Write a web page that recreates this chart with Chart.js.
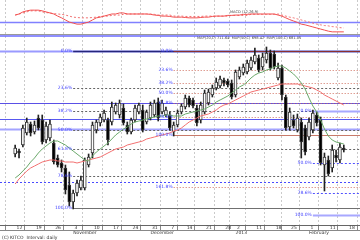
<!DOCTYPE html>
<html><head><meta charset="utf-8">
<script src="https://cdn.jsdelivr.net/npm/chart.js@4/dist/chart.umd.min.js"></script>
<style>html,body{margin:0;padding:0;background:#fff;overflow:hidden}</style>
</head><body>
<canvas id="c" width="360" height="240"></canvas>
<script>
// ---- data ----
const openP  = [646,649,655,667,676,668,682,680,660,662, 657,642,637,632,615,598,607,612,612,635, 647,670,677,680,680,678,688,685,692,675, 668,680,688,690,678,682,685,698,688,685, 685,668,675,688,693,702,700,692,680,688, 697,705,712,714,720,719,717,705,723,727, 728,732,738,742,733,740,747,746,722,732, 703,673,680,670,678,672,663,670,685,680, 635,640,632,645,640,652,null];
const closeP = [652,647,672,678,667,675,672,658,674,676, 638,635,632,610,598,607,617,620,640,643, 675,678,683,687,660,693,695,697,677,668, 680,692,695,670,688,695,697,682,697,690, 672,675,687,694,702,695,694,677,695,707, 708,712,718,721,717,715,703,728,730,733, 737,740,745,730,743,747,732,733,732,705, 672,688,674,682,658,648,678,687,677,637, 643,626,650,642,653,650,null];
const highP  = [655,651,675,682,678,679,685,685,678,680, 660,645,640,635,628,610,620,624,642,646, 678,680,686,690,682,698,697,700,696,678, 682,695,697,695,690,698,700,702,700,693, 688,678,690,696,705,704,702,695,698,710, 711,715,722,724,722,721,720,730,733,736, 740,743,752,745,747,753,750,749,737,735, 705,692,685,686,682,675,682,690,688,683, 647,644,655,650,657,655,null];
const lowP   = [643,642,653,665,664,666,670,656,657,659, 636,633,628,606,594,591,604,610,610,633, 642,667,674,678,655,675,686,682,675,666, 666,678,686,668,676,680,683,679,686,683, 670,664,673,686,691,693,692,674,677,686, 695,703,710,712,714,713,701,703,721,725, 726,730,736,728,730,737,730,731,720,700, 670,670,672,668,642,645,660,667,674,635, 609,624,628,638,637,648,null];
const maShort = [622,625,629,633,638,642,647,651,654,657, 659,659,657,655,652,649,646,643,640,639, 644,648,651,654,657,661,665,668,671,673, 676,678,679,680,681,682,683,684,684,685, 685,684,684,684,686,687,688,689,690,691, 693,695,698,700,702,704,707,710,713,715, 718,722,725,727,728,730,731,733,734,734, 732,729,726,722,717,711,702,694,688,680, 671,664,660,658,657,656,null];
const maLong  = [616,621,625,629,632,634,636,638,639,640, 640,639,639,638,638,638,637,638,639,640, 641,642,643,645,647,649,651,652,653,655, 656,657,658,659,661,662,663,664,665,666, 667,669,670,672,675,678,680,682,684,685, 686,688,690,693,695,696,698,700,702,704, 706,708,709,710,711,712,713,714,715,716, 716,716,716,716,715,714,713,712,710,708, 705,703,701,699,697,695,null];
const oscMain   = [57,60,66,69,71,71,71,69,66,63, 60,54,49,43,37,34,31,31,34,37, 43,49,51,54,57,60,60,63,63,60, 60,60,60,60,60,59,57,56,54,54, 53,51,51,51,50,49,49,49,50,51, 51,53,54,54,54,56,56,57,57,59, 59,60,60,60,60,60,60,60,57,54, 49,44,40,36,31,29,26,23,20,17, 14,11,9,9,9,9,null];
const oscSignal = [57,60,63,66,69,69,69,66,64,63, 61,60,59,57,54,51,50,49,49,49, 50,51,53,54,54,56,57,57,59,60, 60,60,60,60,60,60,59,57,57,57, 57,54,54,54,53,53,53,53,53,54, 54,54,54,54,54,54,56,56,56,56, 56,59,59,59,59,59,59,59,60,57, 54,51,49,46,43,40,37,34,31,29, 27,26,24,23,21,20,null];
const oscLevel = 37;

const tickIdx   = [0,5,10,15,20,25,30,35,40,44,49,54,57,62,67,71,76,81,86];
const tickDays  = ['12','19','26','3','10','17','24','31','7','14','21','28','2','11','18','25','1','11','18'];
const tickMonth = ['','','','November','','','','December','','','','','2013','','','','February','',''];

const hLevels = [749,697,681,671,618];           // full-width support / resistance lines
const fib1Start = 15, fib1Levels = [749,712,689,670,651,624,592];
const fib1Names = ['0.0%','23.6%','38.2%','50.0%','61.8%','78.6%','100.0%'];
const fib2Start = 41, fib2Levels = [749,730,717,707,697,683,665,613];
const fib2Names = ['0.0%','23.6%','38.2%','50.0%','61.8%','78.6%','100.0%','161.8%'];
const fib3Start = 77, fib3Levels = [689,637,607,585];
const fib3Names = ['0.0%','50.0%','78.6%','100.0%'];

// ---- styles ----
const hStyles = [{c:'#9a9aff',w:2},{c:'#5a50e6',w:1},{c:'#5858f0',w:1},{c:'#a4a4ff',w:2},{c:'#4a4aff',w:1,d:[2,2]}];
const fib1Styles = fib1Levels.map((v,k)=> k===0?{c:'#26267a',w:1.5}:(k===fib1Levels.length-1?{c:'#707070',w:1}:{c:'#666',w:1,d:[2,2]}));
const fib2Styles = fib2Levels.map((v,k)=> k===0?{c:'#8a3030',w:1}:(k===6?{c:'#c87a6a',w:1}:{c:'#d07060',w:1,d:[1,2]}));
const fib3Styles = fib3Levels.map((v,k)=> (k===0||k===3)?{c:'#a8a8ff',w:2}:{c:'#5050ff',w:1,d:[2,2]});
const fibSets = [
  {start:fib1Start, levels:fib1Levels, names:fib1Names, styles:fib1Styles},
  {start:fib2Start, levels:fib2Levels, names:fib2Names, styles:fib2Styles},
  {start:fib3Start, levels:fib3Levels, names:fib3Names, styles:fib3Styles}
];
const idx = openP.map((v,i)=>i);

const overlay = {
  id:'overlay',
  beforeDatasetsDraw(chart){
    const {ctx, chartArea:a, scales:{x, y, yOsc}} = chart;
    const Y = v => Math.round(y.getPixelForValue(v))+0.5;
    const line = (x1,x2,py,s)=>{ctx.save();ctx.strokeStyle=s.c;ctx.lineWidth=s.w;ctx.setLineDash(s.d||[]);ctx.beginPath();ctx.moveTo(x1,py);ctx.lineTo(x2,py);ctx.stroke();ctx.restore();};
    const p0 = Math.round(yOsc.getPixelForValue(0));
    line(a.left,a.right,Math.round(yOsc.getPixelForValue(oscLevel))+0.5,{c:'#8080ff',w:1.5});
    line(a.left,a.right,p0-0.5,{c:'#999',w:1});
    line(a.left,a.right,p0+1,{c:'#6a6aff',w:1.5});
    hLevels.forEach((v,k)=>line(a.left,a.right,Y(v),hStyles[k]));
    fibSets.forEach(f=>{const xs=x.getPixelForValue(f.start);f.levels.forEach((v,k)=>line(xs,a.right,Y(v),f.styles[k]));});
    line(a.left,a.right,a.bottom+5.5,{c:'#888',w:1});
  },
  afterDatasetsDraw(chart){
    const {ctx, chartArea:a, scales:{x, y}} = chart;
    ctx.save();
    ctx.font = '4.5px "DejaVu Sans"';
    ctx.fillStyle = '#4040ff';
    ctx.textBaseline = 'middle';
    ctx.textAlign = 'right';
    fibSets.forEach(f=>{const xs=x.getPixelForValue(f.start)-1;f.levels.forEach((v,k)=>ctx.fillText(f.names[k],xs,y.getPixelForValue(v)));});
    ctx.textAlign='left';
    ctx.fillStyle='#444';
    ctx.font = '3.6px "DejaVu Sans"';
    ctx.fillText('MACD (12,26,9)',230,12);
    ctx.fillText('MAP(20,C) 711.64  MAP(50,C) 698.42  MAP(100,C) 681.05',197,38.5);
    ctx.font = '4.5px "DejaVu Sans"';
    ctx.fillStyle='#333';
    ctx.fillText('(C) KITCO  Interval: daily',2,238);
    ctx.restore();
  }
};

new Chart(document.getElementById('c'), {
  data:{datasets:[
    {type:'line', data:idx.map(i=>({x:i,y:maShort[i]})), borderColor:'#6aa86a', borderWidth:1, pointRadius:0, yAxisID:'y', order:0},
    {type:'line', data:idx.map(i=>({x:i,y:maLong[i]})), borderColor:'#f27070', borderWidth:1, pointRadius:0, yAxisID:'y', order:0},
    {type:'line', data:idx.map(i=>({x:i,y:oscMain[i]})), borderColor:'#f25050', borderWidth:1, pointRadius:0, yAxisID:'yOsc', order:0},
    {type:'line', data:idx.map(i=>({x:i,y:oscSignal[i]})), borderColor:'#f07070', borderWidth:1, borderDash:[2,2], pointRadius:0, yAxisID:'yOsc', order:0},
    {type:'bar', data:idx.map(i=>({x:i,y:highP[i]==null?null:[lowP[i],highP[i]]})), backgroundColor:'#222', barThickness:1, grouped:false, yAxisID:'y', order:3},
    {type:'bar', data:idx.map(i=>({x:i,y:openP[i]==null?null:[openP[i],closeP[i]===openP[i]?closeP[i]+0.8:closeP[i]]})),
      backgroundColor:c=>closeP[c.dataIndex]>=openP[c.dataIndex]?'#fff':'#000', borderColor:'#333', borderWidth:1, borderSkipped:false,
      barThickness:3, grouped:false, yAxisID:'y', order:2}
  ]},
  options:{
    responsive:false, animation:false, devicePixelRatio:1,
    layout:{padding:{left:0,right:0,top:0,bottom:5}},
    plugins:{legend:{display:false}, tooltip:{enabled:false}},
    scales:{
      x:{type:'linear', min:-1.47, max:86.74, position:'bottom',
        afterBuildTicks:s=>{s.ticks=tickIdx.map(v=>({value:v}));},
        afterFit:s=>{s.height=10;},
        grid:{color:'#cacaca', tickLength:5, tickColor:'#888', drawOnChartArea:true},
        border:{display:true, color:'#666', width:1, dash:[2,2]},
        ticks:{autoSkip:false, maxRotation:0, align:'start', padding:-5, color:'#333', font:{size:4.5, family:'DejaVu Sans', lineHeight:1.1},
          callback:(v)=>{const k=tickIdx.indexOf(v); if(k<0) return ''; return tickMonth[k]?[' '+tickDays[k], tickMonth[k]]:' '+tickDays[k];}}
      },
      y:{display:false, min:575, max:800},
      yOsc:{display:false, min:-542.9, max:100}
    }
  },
  plugins:[overlay]
});
</script>
</body></html>
